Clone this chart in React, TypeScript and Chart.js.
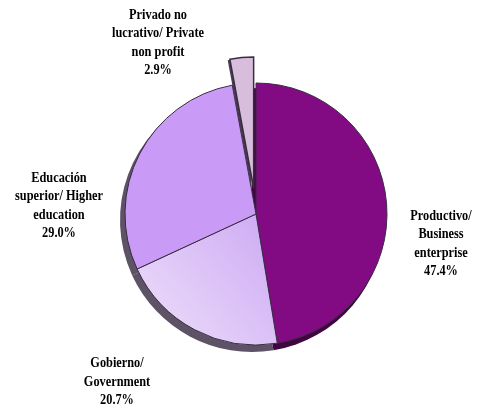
import React, { useEffect, useRef } from "react";
import { Chart, registerables } from "chart.js";

Chart.register(...registerables);

const categories = [
  ["Productivo/", "Business", "enterprise"],
  ["Gobierno/", "Government"],
  ["Educación", "superior/ Higher", "education"],
  ["Privado no", "lucrativo/ Private", "non profit"],
];
const values = [47.4, 20.7, 29.0, 2.9];
const valueLabels = ["47.4%", "20.7%", "29.0%", "2.9%"];
const sliceColors = ["#820A82", "#DCC6F7", "#C99AF6", "#D9BDDD"];
const shadowColors = ["#40063F", "#5E5266", "#5E5266", "#4A3C50"];
const explode = [0, 0, 0, 26];
// label block centers relative to pie centre
const labelDx = [185, -139, -197, -98];
const labelDy = [30, 168, -8, -171];

function arcGeom(arc: any, i: number) {
  const p = arc.getProps(["x", "y", "startAngle", "endAngle", "outerRadius"], true);
  const mid = (p.startAngle + p.endAngle) / 2;
  return {
    cx: p.x + Math.cos(mid) * explode[i],
    cy: p.y + Math.sin(mid) * explode[i],
    r: p.outerRadius,
    s: p.startAngle,
    e: p.endAngle,
  };
}

const shadowPlugin = {
  id: "pieShadow",
  beforeDatasetsDraw(chart: any) {
    const ctx = chart.ctx;
    const meta = chart.getDatasetMeta(0);
    ctx.save();
    meta.data.forEach((arc: any, i: number) => {
      const g = arcGeom(arc, i);
      const dx = explode[i] > 0 ? -2 : -4;
      const dy = explode[i] > 0 ? 2 : 6;
      ctx.fillStyle = shadowColors[i];
      ctx.beginPath();
      ctx.moveTo(g.cx + dx, g.cy + dy);
      ctx.arc(g.cx + dx, g.cy + dy, g.r + 1, g.s, g.e);
      ctx.closePath();
      ctx.fill();
    });
    ctx.restore();
  },
};

const explodePlugin = {
  id: "explodedSlices",
  afterDatasetsDraw(chart: any) {
    const ctx = chart.ctx;
    const meta = chart.getDatasetMeta(0);
    ctx.save();
    meta.data.forEach((arc: any, i: number) => {
      if (!explode[i]) return;
      const g = arcGeom(arc, i);
      ctx.beginPath();
      ctx.moveTo(g.cx, g.cy);
      ctx.arc(g.cx, g.cy, g.r, g.s, g.e);
      ctx.closePath();
      ctx.fillStyle = sliceColors[i];
      ctx.fill();
      ctx.lineWidth = 1.5;
      ctx.strokeStyle = "#3A2C42";
      ctx.stroke();
    });
    ctx.restore();
  },
};

const labelPlugin = {
  id: "pieLabels",
  afterDatasetsDraw(chart: any) {
    const ctx = chart.ctx;
    const meta = chart.getDatasetMeta(0);
    const arc0: any = meta.data[0];
    const cx = arc0.x;
    const cy = arc0.y;
    ctx.save();
    ctx.fillStyle = "#000";
    ctx.font = "bold 14px 'Liberation Serif', 'Times New Roman', serif";
    ctx.textAlign = "center";
    ctx.textBaseline = "middle";
    const lh = 18.5;
    categories.forEach((lines, i) => {
      const all = [...lines, valueLabels[i]];
      const x = cx + labelDx[i];
      const y0 = cy + labelDy[i] - ((all.length - 1) * lh) / 2;
      all.forEach((t, j) => {
        ctx.save();
        ctx.translate(x, y0 + j * lh);
        ctx.scale(0.88, 1);
        ctx.fillText(t, 0, 0);
        ctx.restore();
      });
    });
    ctx.restore();
  },
};

export default function App() {
  const ref = useRef<HTMLCanvasElement | null>(null);
  useEffect(() => {
    document.body.style.margin = "0";
    const canvas = ref.current!;
    const chart = new Chart(canvas, {
      type: "pie",
      data: {
        labels: categories.map((c) => c.join(" ")),
        datasets: [
          {
            data: values,
            backgroundColor: (c: any) => {
              const i = c.dataIndex;
              if (explode[i]) return "rgba(0,0,0,0)";
              if (i === 1) {
                const g = c.chart.ctx.createLinearGradient(120, 340, 260, 220);
                g.addColorStop(0, "#F0E2FB");
                g.addColorStop(1, "#CFAEF4");
                return g;
              }
              return sliceColors[i];
            },
            borderColor: (c: any) => (explode[c.dataIndex] ? "rgba(0,0,0,0)" : "#3A2C42"),
            borderWidth: 1,
          },
        ],
      },
      options: {
        animation: false,
        responsive: false,
        radius: 131,
        layout: { padding: { left: 25, right: 0, top: 20, bottom: 0 } },
        plugins: {
          legend: { display: false },
          tooltip: { enabled: false },
        },
      } as any,
      plugins: [shadowPlugin, explodePlugin, labelPlugin],
    });
    return () => chart.destroy();
  }, []);
  return (
    <div style={{ width: 487, height: 408, background: "#fff" }}>
      <canvas ref={ref} width={487} height={408} />
    </div>
  );
}
